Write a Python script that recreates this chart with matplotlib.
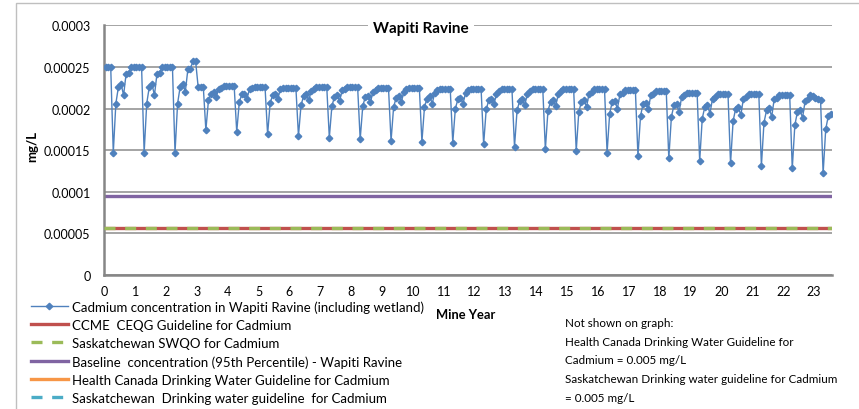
import matplotlib
matplotlib.use("Agg")
import matplotlib.pyplot as plt
from matplotlib.patches import Rectangle
from matplotlib.lines import Line2D
import numpy as np

plt.rcParams['font.family'] = ['Lato', 'DejaVu Sans']

# monthly cadmium concentration (mg/L), one row per mine year
cadmium_mgL = [
    0.000250, 0.000250, 0.000250, 0.000147, 0.000206, 0.000226, 0.000230, 0.000216, 0.000242, 0.000243, 0.000250, 0.000250,
    0.000250, 0.000250, 0.000250, 0.000147, 0.000206, 0.000226, 0.000230, 0.000216, 0.000242, 0.000243, 0.000250, 0.000250,
    0.000250, 0.000250, 0.000250, 0.000147, 0.000206, 0.000226, 0.000230, 0.000220, 0.000247, 0.000248, 0.000257, 0.000257,
    0.000226, 0.000226, 0.000226, 0.000174, 0.000210, 0.000218, 0.000220, 0.000214, 0.000224, 0.000225, 0.000227, 0.000227,
    0.000227, 0.000227, 0.000227, 0.000172, 0.000208, 0.000217, 0.000218, 0.000212, 0.000224, 0.000225, 0.000226, 0.000226,
    0.000226, 0.000226, 0.000226, 0.000169, 0.000207, 0.000216, 0.000217, 0.000212, 0.000224, 0.000225, 0.000225, 0.000225,
    0.000225, 0.000225, 0.000225, 0.000167, 0.000204, 0.000215, 0.000217, 0.000210, 0.000221, 0.000224, 0.000226, 0.000226,
    0.000226, 0.000226, 0.000226, 0.000165, 0.000203, 0.000214, 0.000216, 0.000209, 0.000222, 0.000224, 0.000226, 0.000226,
    0.000226, 0.000226, 0.000226, 0.000163, 0.000203, 0.000214, 0.000215, 0.000208, 0.000220, 0.000222, 0.000225, 0.000225,
    0.000225, 0.000225, 0.000225, 0.000161, 0.000202, 0.000213, 0.000215, 0.000208, 0.000220, 0.000223, 0.000225, 0.000225,
    0.000225, 0.000225, 0.000225, 0.000160, 0.000202, 0.000212, 0.000215, 0.000206, 0.000219, 0.000222, 0.000224, 0.000224,
    0.000224, 0.000224, 0.000224, 0.000159, 0.000200, 0.000211, 0.000213, 0.000206, 0.000219, 0.000222, 0.000224, 0.000224,
    0.000224, 0.000224, 0.000224, 0.000157, 0.000199, 0.000210, 0.000212, 0.000205, 0.000218, 0.000221, 0.000224, 0.000224,
    0.000224, 0.000224, 0.000224, 0.000154, 0.000198, 0.000209, 0.000211, 0.000204, 0.000218, 0.000221, 0.000223, 0.000223,
    0.000223, 0.000223, 0.000223, 0.000151, 0.000197, 0.000208, 0.000210, 0.000203, 0.000217, 0.000221, 0.000223, 0.000223,
    0.000223, 0.000223, 0.000223, 0.000149, 0.000196, 0.000208, 0.000210, 0.000202, 0.000218, 0.000220, 0.000223, 0.000223,
    0.000223, 0.000223, 0.000223, 0.000147, 0.000194, 0.000208, 0.000209, 0.000200, 0.000217, 0.000219, 0.000222, 0.000222,
    0.000222, 0.000222, 0.000222, 0.000143, 0.000191, 0.000206, 0.000207, 0.000199, 0.000216, 0.000218, 0.000221, 0.000221,
    0.000221, 0.000221, 0.000221, 0.000140, 0.000190, 0.000204, 0.000205, 0.000196, 0.000214, 0.000216, 0.000219, 0.000219,
    0.000219, 0.000219, 0.000219, 0.000137, 0.000188, 0.000202, 0.000204, 0.000194, 0.000212, 0.000214, 0.000218, 0.000218,
    0.000218, 0.000218, 0.000218, 0.000134, 0.000185, 0.000200, 0.000202, 0.000192, 0.000212, 0.000214, 0.000217, 0.000217,
    0.000217, 0.000217, 0.000217, 0.000131, 0.000183, 0.000198, 0.000201, 0.000190, 0.000212, 0.000213, 0.000216, 0.000216,
    0.000216, 0.000216, 0.000216, 0.000128, 0.000180, 0.000196, 0.000198, 0.000189, 0.000209, 0.000212, 0.000216, 0.000215,
    0.000213, 0.000212, 0.000210, 0.000122, 0.000175, 0.000191, 0.000194,
]
mine_year = (np.arange(len(cadmium_mgL)) + 0.5) / 12

ccme_ceqg = 0.000057
sask_swqo = 0.000057
baseline_95th = 0.000095
health_canada_dw = 0.005
sask_dw = 0.005

x_ticks = list(range(0, 24))
y_ticks = [0, 0.00005, 0.0001, 0.00015, 0.0002, 0.00025, 0.0003]
y_labels = ['0', '0.00005', '0.0001', '0.00015', '0.0002', '0.00025', '0.0003']

blue = '#4F81BD'
red = '#C0504D'
green = '#9BBB59'
purple = '#8064A2'
orange = '#F79646'
cyan = '#4BACC6'
dash = (0, (3.3, 2.9))

fig = plt.figure(figsize=(8.59, 4.10), dpi=100)
ax = fig.add_axes([0.1214, 0.3268, 0.8472, 0.6091])

xr = [0, 23.6]
ax.plot(xr, [ccme_ceqg] * 2, color=red, lw=2.4, solid_capstyle='butt', zorder=2)
ax.plot(xr, [sask_swqo] * 2, color=green, lw=2.4, linestyle=dash, dash_capstyle='butt', zorder=3)
ax.plot(xr, [baseline_95th] * 2, color=purple, lw=2.4, solid_capstyle='butt', zorder=2)
ax.plot(xr, [health_canada_dw] * 2, color=orange, lw=2.4, zorder=2)
ax.plot(xr, [sask_dw] * 2, color=cyan, lw=2.4, linestyle=dash, zorder=3)
ax.plot(mine_year, cadmium_mgL, color=blue, lw=1, marker='D', ms=3.3, zorder=4)

ax.set_xlim(0, 23.58)
ax.set_ylim(0, 0.0003)
ax.set_xticks(x_ticks)
ax.set_yticks(y_ticks)
ax.set_yticklabels(y_labels)
ax.tick_params(length=0, labelsize=9, colors='black')
ax.tick_params(axis='x', pad=7.5)
ax.tick_params(axis='y', pad=10)
ax.yaxis.grid(True, color='#8C8C8C', lw=1.1)
ax.set_axisbelow(True)
for s in ['top', 'right']:
    ax.spines[s].set_visible(False)
for s in ['left', 'bottom']:
    ax.spines[s].set_color('#868686')
    ax.spines[s].set_linewidth(1.8)

fig.text(421 / 859, 1 - 29.3 / 410, 'Wapiti Ravine', ha='center', va='center',
         fontsize=11, fontweight='bold',
         bbox=dict(facecolor='white', edgecolor='none', pad=4))
fig.text(32 / 859, 1 - 146 / 410, 'mg/L', rotation=90, ha='center', va='center',
         fontsize=9.5, fontweight='bold')
fig.text(466 / 859, 1 - 315 / 410, 'Mine Year', ha='center', va='center',
         fontsize=9.3, fontweight='bold')

fig.text(565 / 859, 1 - 318 / 410,
         'Not shown on graph:\nHealth Canada Drinking Water Guideline for\n'
         'Cadmium = 0.005 mg/L\nSaskatchewan Drinking water guideline for Cadmium\n= 0.005 mg/L',
         ha='left', va='top', fontsize=8.4, linespacing=1.85)

handles = [
    Line2D([], [], color=blue, lw=1, marker='D', ms=3.3),
    Line2D([], [], color=red, lw=2.4),
    Line2D([], [], color=green, lw=2.4, linestyle=dash),
    Line2D([], [], color=purple, lw=2.4),
    Line2D([], [], color=orange, lw=2.4),
    Line2D([], [], color=cyan, lw=2.4, linestyle=dash),
]
labels = [
    'Cadmium concentration in Wapiti Ravine (including wetland)',
    'CCME  CEQG Guideline for Cadmium',
    'Saskatchewan SWQO for Cadmium',
    'Baseline  concentration (95th Percentile) - Wapiti Ravine',
    'Health Canada Drinking Water Guideline for Cadmium',
    'Saskatchewan  Drinking water guideline  for Cadmium',
]
fig.legend(handles, labels, loc='upper left', bbox_to_anchor=(31 / 859, 1 - 301 / 410),
           frameon=False, fontsize=9.5, borderpad=0, borderaxespad=0,
           handlelength=2.8, handletextpad=0.3, labelspacing=0.47)

fig.patches.append(Rectangle((16 / 859, -0.05), 1.2, 1 - 4 / 410 + 0.05,
                             transform=fig.transFigure, fill=False,
                             edgecolor='#BFBFBF', lw=1))

fig.savefig('out.png', dpi=100)
